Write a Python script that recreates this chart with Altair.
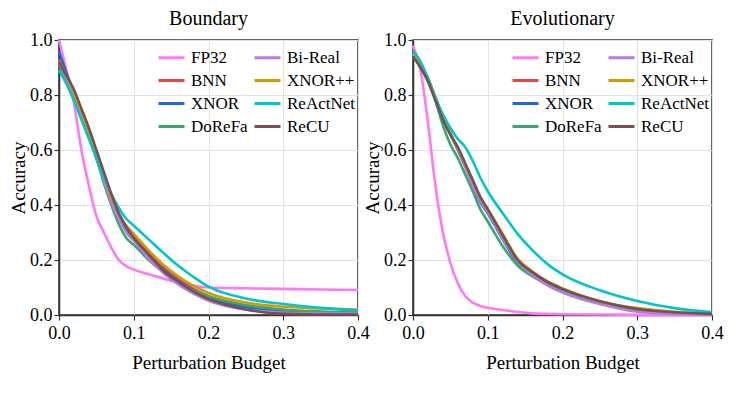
import altair as alt
import pandas as pd

X = [0.0, 0.01, 0.02, 0.03, 0.04, 0.05, 0.06, 0.07, 0.08, 0.09, 0.10,
     0.12, 0.14, 0.16, 0.18, 0.20, 0.25, 0.30, 0.35, 0.40]

methods = ["FP32", "BNN", "XNOR", "DoReFa", "Bi-Real", "XNOR++", "ReActNet", "ReCU"]
colors = ["#ff78f5", "#ee4444", "#2266dd", "#3aa86b", "#b07de0", "#d49a00", "#00c6c8", "#7b4f4f"]

boundary = {
    "FP32":     [1.00, 0.89, 0.77, 0.60, 0.47, 0.36, 0.30, 0.245, 0.20, 0.178, 0.165, 0.148, 0.132, 0.118, 0.107, 0.100, 0.097, 0.095, 0.093, 0.091],
    "BNN":      [0.93, 0.87, 0.81, 0.74, 0.67, 0.59, 0.51, 0.43, 0.365, 0.32, 0.285, 0.225, 0.172, 0.130, 0.095, 0.068, 0.032, 0.016, 0.010, 0.008],
    "XNOR":     [0.96, 0.88, 0.81, 0.74, 0.66, 0.58, 0.50, 0.42, 0.355, 0.31, 0.280, 0.215, 0.165, 0.123, 0.090, 0.063, 0.028, 0.013, 0.008, 0.006],
    "DoReFa":   [0.91, 0.85, 0.79, 0.72, 0.65, 0.57, 0.48, 0.40, 0.33, 0.28, 0.255, 0.200, 0.155, 0.118, 0.090, 0.068, 0.036, 0.020, 0.013, 0.010],
    "Bi-Real":  [0.92, 0.86, 0.80, 0.72, 0.65, 0.57, 0.49, 0.41, 0.35, 0.30, 0.270, 0.205, 0.152, 0.110, 0.078, 0.052, 0.020, 0.009, 0.006, 0.005],
    "XNOR++":   [0.92, 0.87, 0.81, 0.74, 0.67, 0.59, 0.51, 0.43, 0.37, 0.325, 0.295, 0.235, 0.182, 0.140, 0.106, 0.080, 0.045, 0.030, 0.024, 0.020],
    "ReActNet": [0.89, 0.84, 0.78, 0.71, 0.64, 0.57, 0.50, 0.44, 0.39, 0.35, 0.325, 0.275, 0.225, 0.178, 0.138, 0.103, 0.060, 0.040, 0.026, 0.015],
    "ReCU":     [0.92, 0.87, 0.82, 0.75, 0.68, 0.60, 0.52, 0.44, 0.37, 0.32, 0.280, 0.220, 0.160, 0.120, 0.085, 0.058, 0.020, 0.004, 0.002, 0.002],
}

evolutionary = {
    "FP32":     [0.98, 0.89, 0.70, 0.47, 0.30, 0.19, 0.115, 0.068, 0.045, 0.033, 0.026, 0.018, 0.011, 0.006, 0.004, 0.003, 0.002, 0.001, 0.000, 0.000],
    "BNN":      [0.95, 0.91, 0.86, 0.79, 0.72, 0.66, 0.60, 0.54, 0.48, 0.42, 0.380, 0.285, 0.200, 0.152, 0.118, 0.093, 0.045, 0.020, 0.008, 0.003],
    "XNOR":     [0.96, 0.92, 0.86, 0.79, 0.72, 0.66, 0.60, 0.54, 0.47, 0.41, 0.370, 0.275, 0.190, 0.145, 0.110, 0.088, 0.042, 0.018, 0.007, 0.003],
    "DoReFa":   [0.94, 0.90, 0.85, 0.78, 0.69, 0.62, 0.57, 0.51, 0.45, 0.385, 0.340, 0.250, 0.180, 0.140, 0.110, 0.088, 0.045, 0.020, 0.008, 0.003],
    "Bi-Real":  [0.95, 0.91, 0.86, 0.79, 0.72, 0.66, 0.60, 0.54, 0.47, 0.415, 0.375, 0.280, 0.195, 0.145, 0.108, 0.082, 0.040, 0.012, 0.004, 0.002],
    "XNOR++":   [0.95, 0.91, 0.86, 0.79, 0.72, 0.66, 0.61, 0.55, 0.49, 0.43, 0.385, 0.295, 0.205, 0.158, 0.122, 0.097, 0.050, 0.025, 0.012, 0.005],
    "ReActNet": [0.96, 0.92, 0.86, 0.79, 0.73, 0.68, 0.64, 0.61, 0.56, 0.50, 0.450, 0.370, 0.295, 0.235, 0.185, 0.148, 0.090, 0.051, 0.025, 0.010],
    "ReCU":     [0.94, 0.90, 0.85, 0.78, 0.71, 0.655, 0.61, 0.55, 0.49, 0.43, 0.385, 0.290, 0.200, 0.155, 0.120, 0.095, 0.050, 0.022, 0.010, 0.004],
}

panels = [("Boundary", boundary), ("Evolutionary", evolutionary)]

rows = []
for pname, d in panels:
    for m in methods:
        for i, (x, y) in enumerate(zip(X, d[m])):
            rows.append({"panel": pname, "method": m, "x": x, "y": y, "i": i})
df = pd.DataFrame(rows)

FONT = "Liberation Serif"


def panel(name):
    return alt.Chart(df[df.panel == name], title=name).mark_line(
        strokeWidth=2.6, interpolate="monotone"
    ).encode(
        x=alt.X("x:Q", title="Perturbation Budget",
                scale=alt.Scale(domain=[0, 0.4], nice=False),
                axis=alt.Axis(values=[0, 0.1, 0.2, 0.3, 0.4], format=".1f",
                              labelFlush=False, labelPadding=4, titlePadding=11)),
        y=alt.Y("y:Q", title="Accuracy",
                scale=alt.Scale(domain=[0, 1], nice=False),
                axis=alt.Axis(values=[0, 0.2, 0.4, 0.6, 0.8, 1.0], format=".1f",
                              labelPadding=2, titlePadding=1)),
        color=alt.Color("method:N",
                        scale=alt.Scale(domain=methods, range=colors),
                        legend=alt.Legend(title=None, orient="top-right", columns=2,
                                          symbolType="stroke", symbolStrokeWidth=3,
                                          symbolSize=676, labelFontSize=17,
                                          labelFont=FONT, labelColor="black",
                                          columnPadding=0, rowPadding=-4,
                                          labelOffset=5, offset=3, padding=0)),
        order="i:Q",
    ).properties(width=299, height=275)


chart = alt.hconcat(panel("Boundary"), panel("Evolutionary"), spacing=-8).resolve_legend(
    color="independent"
).resolve_scale(color="independent").properties(
    background="white", padding=0
).configure_view(
    stroke="#333333", strokeWidth=1.5
).configure_axis(
    labelFont=FONT, titleFont=FONT, labelFontSize=18, titleFontSize=19,
    labelColor="black", titleColor="black", titleFontWeight="normal",
    domainColor="#333333", domainWidth=1.5, tickColor="#333333", tickSize=5,
    tickWidth=1.2, gridColor="#e3e3e3", gridWidth=1,
).configure_title(
    font=FONT, fontSize=20, fontWeight="normal", color="black", offset=2
)

chart.save("out.html", embed_options={"renderer": "svg", "actions": False})
